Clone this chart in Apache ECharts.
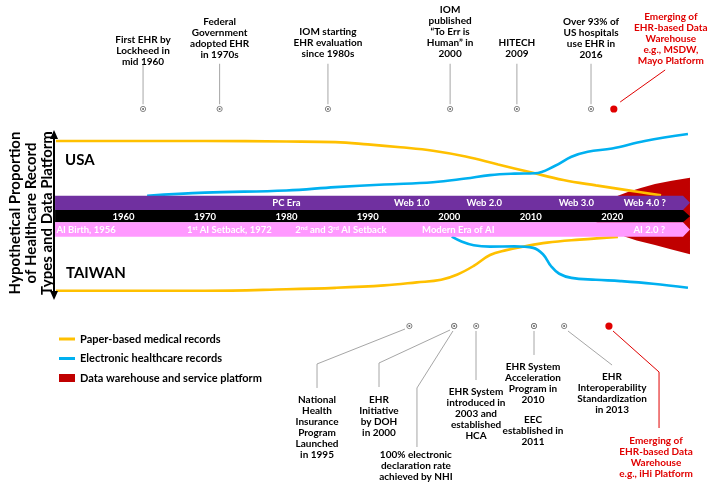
<!DOCTYPE html>
<html><head><meta charset="utf-8">
<script src="https://cdn.jsdelivr.net/npm/echarts@6/dist/echarts.min.js"></script>
<style>html,body{margin:0;padding:0;background:#fff}#c{width:715px;height:490px}</style>
</head><body><div id="c"></div>
<script>
// ---------------- data ----------------
const decadeTicks = [1960, 1970, 1980, 1990, 2000, 2010, 2020];
const eraNames = ['PC Era', 'Web 1.0', 'Web 2.0', 'Web 3.0', 'Web 4.0 ?'];
const eraYears = [1980.0, 1995.4, 2004.3, 2015.6, 2024.0];
const aiNames = ['AI Birth, 1956', '{t|1}{s|st}{t| AI Setback, 1972}', '{t|2}{s|nd}{t| and 3}{s|rd}{t| AI Setback}', 'Modern Era of AI', 'AI 2.0 ?'];
const aiYears = [1955.4, 1973.0, 1986.7, 2001.1, 2024.55];

const usaPaper = [[1951.7,100],[1960,100],[1970,100],[1980,99.3],[1986,98.5],[1990,95.5],[1994,91.7],[1998,87],[2002,79.3],[2006,68.6],[2010,58.2],[2014,48],[2018,40.8],[2022,34.2],[2026,27.5]];
const usaEhr = [[1962.9,27],[1970,31.2],[1980,34],[1986,38.5],[1992,42],[1998,45],[2002,50],[2005,54.5],[2008,56.5],[2010.5,57],[2013,67],[2015,79],[2017,85.6],[2020,90],[2024,100],[2029.3,109.3]];
const twPaper = [[1951.7,-99.6],[1960,-99.6],[1970,-99.6],[1980,-97.7],[1986,-95.8],[1992,-92.5],[1996,-88.5],[1999,-85],[2001,-78],[2003,-66.5],[2005,-52],[2007,-45.5],[2009,-41],[2012,-35.5],[2016,-31.5],[2020.7,-27.8]];
const twEhr = [[2000.3,-27.6],[2001.5,-34],[2003,-39],[2005,-40.8],[2008,-40.5],[2010.3,-42.5],[2011.5,-51],[2012.5,-67],[2013.5,-77],[2015,-82.5],[2018,-85],[2021,-86.8],[2025,-90.3],[2029.3,-95.6]];
const warehouseTop = [[2016.5,0],[2020.7,27],[2022,32.5],[2023.5,37.5],[2025.25,42.7],[2027.3,47],[2029.55,51]];
const warehouseBottom = [[2016.5,0],[2021.6,-27.6],[2023,-32.5],[2025.25,-38.7],[2027.3,-44.5],[2029.55,-51]];

const topLabels = ['First EHR by\nLockheed in\nmid 1960', 'Federal\nGovernment\nadopted EHR\nin 1970s', 'IOM starting\nEHR evaluation\nsince 1980s', 'IOM\npublished\n\u201cTo Err is\nHuman\u201d in\n2000', 'HITECH\n2009', 'Over 93% of\nUS hospitals\nuse EHR in\n2016', 'Emerging of\nEHR-based Data\nWarehouse\ne.g., MSDW,\nMayo Platform'];
const topYears = [1962.4, 1971.8, 1985.1, 2000.1, 2008.3, 2017.4, 2020.2];
const bottomLabels = ['National\nHealth\nInsurance\nProgram\nLaunched\nin 1995', 'EHR\nInitiative\nby DOH\nin 2000', '100% electronic\ndeclaration rate\nachieved by NHI', 'EHR System\nintroduced in\n2003 and\nestablished\nHCA', 'EHR System\nAcceleration\nProgram in\n2010', 'EEC\nestablished in\n2011', 'EHR\nInteroperability\nStandardization\nin 2013', 'Emerging of\nEHR-based Data\nWarehouse\ne.g., iHi Platform'];
const bottomYears = [1995.1, 2000.6, 2000.6, 2003.3, 2010.4, 2010.4, 2014.1, 2019.6];

const legendNames = ['Paper-based medical records', 'Electronic healthcare records', 'Data warehouse and service platform'];

// ---------------- layout (positions in data space) ----------------
const bandStart = 1951.6, bandBodyEnd = 2028.69, bandTip = 2029.55;
const bandEdges = [27.1, 8, -8.4, -27.6];
const topCircleV = 142.7, bottomCircleV = -146.7;
const topLeaders = [
  [[1962.4,149],[1962.4,203]], [[1971.8,149],[1971.8,203]], [[1985.1,149],[1985.1,203]],
  [[2000.1,149],[2000.1,203]], [[2008.3,149],[2008.3,203]], [[2017.4,149],[2017.4,203]],
  [[2020.98,152],[2026.5,194.7]]
];
const topTextAnchor = [[1962.4,242],[1971.8,266],[1985.1,252.7],[2000.1,282],[2008.3,238],[2017.4,266],[2027.2,272.7]];
const bottomLeaders = [
  [[1994.56,-150.7],[1983.76,-197.3],[1983.76,-229.3]],
  [[2000.09,-152],[1991.37,-196],[1991.37,-228]],
  [[2000.45,-153.3],[1996.03,-229.3],[1996.03,-308]],
  [[2003.28,-153.3],[2003.28,-218.7]],
  [[2010.4,-153.3],[2010.4,-185.3]],
  null,
  [[2014.57,-153.3],[2019.98,-198.7]],
  [[2020.1,-153.3],[2025.75,-208],[2025.75,-282.7]]
];
const bottomTextAnchor = [[1983.76,-238],[1991.37,-238],[1995.9,-311.3],[2003.28,-227.3],[2010.28,-194],[2010.28,-264.7],[2019.98,-207.3],[2025.38,-292.7]];
const arrowYear = 1951.47, arrowTopV = 114.7, arrowBottomV = -112;
const countryLabels = [['USA', 1952.82, 74.7], ['TAIWAN', 1952.94, -76.4]];

// ---------------- styles ----------------
const YELLOW = '#FFC000', BLUE = '#00B0F0', RED = '#C00000', RED_TEXT = '#E00000';
const PURPLE = '#7030A0', PINK = '#FF99FF', GREY = '#A6A6A6';
const FONT = 'Lato';

const chart = echarts.init(document.getElementById('c'), null, {renderer: 'canvas'});

function lineSeries(name, data, color) {
  return {
    name, type: 'line', data, smooth: 0.4, symbol: 'none', z: 3,
    color, lineStyle: {color, width: 2.6}, itemStyle: {color}, silent: true
  };
}

const option = {
  animation: false,
  backgroundColor: '#fff',
  grid: {left: 42.05, right: 21.35, top: 0, bottom: 4},
  xAxis: {type: 'value', min: 1950, max: 2030, show: false},
  yAxis: {type: 'value', min: -360, max: 288, show: false},
  legend: {
    orient: 'vertical', left: 54, top: 327, itemWidth: 16, itemHeight: 8, itemGap: 5.5,
    selectedMode: false,
    textStyle: {fontFamily: FONT, fontWeight: 'bold', fontSize: 11, color: '#000', lineHeight: 14},
    data: [
      {name: legendNames[0], icon: 'path://M0,0H16V3H0Z'},
      {name: legendNames[1], icon: 'path://M0,0H16V3H0Z'},
      {name: legendNames[2], icon: 'rect'}
    ]
  },
  graphic: [{
    type: 'text', x: 31, y: 213, rotation: Math.PI / 2,
    style: {text: 'Hypothetical Proportion\nof Healthcare Record\nTypes and Data Platform',
      font: 'bold 15px ' + FONT, lineHeight: 16, align: 'center', verticalAlign: 'middle', fill: '#000'}
  }],
  series: [
    { // data warehouse area
      name: legendNames[2], type: 'custom', z: 1, silent: true,
      itemStyle: {color: RED}, color: RED,
      data: [[2025, 0]],
      renderItem: function (params, api) {
        const pts = warehouseTop.map(p => api.coord(p)).concat(warehouseBottom.slice(1).reverse().map(p => api.coord(p)));
        return {type: 'polygon', shape: {points: pts}, style: {fill: RED}};
      }
    },
    lineSeries(legendNames[0], usaPaper, YELLOW),
    lineSeries(legendNames[1], usaEhr, BLUE),
    lineSeries(legendNames[0], twPaper, YELLOW),
    lineSeries(legendNames[1], twEhr, BLUE),
    { // era bands
      type: 'custom', z: 5, silent: true,
      data: [[bandStart, bandEdges[0], 0], [bandStart, bandEdges[1], 1], [bandStart, bandEdges[2], 2]],
      renderItem: function (params, api) {
        const i = params.dataIndex;
        const top = bandEdges[i], bot = bandEdges[i + 1], mid = (top + bot) / 2;
        const pts = [[bandStart, top], [bandBodyEnd, top], [bandTip, mid], [bandBodyEnd, bot], [bandStart, bot]].map(p => api.coord(p));
        return {type: 'polygon', shape: {points: pts}, style: {fill: [PURPLE, '#000', PINK][i]}};
      }
    },
    { // band texts
      type: 'custom', z: 6, silent: true,
      data: eraYears.map((y, i) => [y, (bandEdges[0] + bandEdges[1]) / 2, 0, i])
        .concat(decadeTicks.map((y, i) => [y, (bandEdges[1] + bandEdges[2]) / 2, 1, i]))
        .concat(aiYears.map((y, i) => [y, (bandEdges[2] + bandEdges[3]) / 2, 2, i])),
      renderItem: function (params, api) {
        const row = api.value(2), i = api.value(3);
        const p = api.coord([api.value(0), api.value(1)]);
        const text = row === 0 ? eraNames[i] : row === 1 ? String(decadeTicks[i]) : aiNames[i];
        return {type: 'text', x: p[0], y: p[1] + 0.5, style: {
          text, fill: '#fff', font: 'bold 9.5px ' + FONT, align: 'center', verticalAlign: 'middle',
          rich: {t: {fill: '#fff', font: 'bold 9.5px ' + FONT}, s: {fill: '#fff', font: 'bold 6px ' + FONT, verticalAlign: 'top', padding: [0, 0, 4, 0]}}
        }};
      }
    },
    { // frame: arrow + country labels
      type: 'custom', z: 6, silent: true,
      data: [[arrowYear, 0]],
      renderItem: function (params, api) {
        const t = api.coord([arrowYear, arrowTopV]), b = api.coord([arrowYear, arrowBottomV]);
        const h = 9, w = 4;
        const children = [
          {type: 'line', shape: {x1: t[0], y1: t[1] + h - 1, x2: b[0], y2: b[1] - h + 1}, style: {stroke: '#000', lineWidth: 2}},
          {type: 'polygon', shape: {points: [[t[0], t[1]], [t[0] - w, t[1] + h], [t[0] + w, t[1] + h]]}, style: {fill: '#000'}},
          {type: 'polygon', shape: {points: [[b[0], b[1]], [b[0] - w, b[1] - h], [b[0] + w, b[1] - h]]}, style: {fill: '#000'}}
        ];
        countryLabels.forEach(c => {
          const p = api.coord([c[1], c[2]]);
          children.push({type: 'text', x: p[0], y: p[1], style: {text: c[0], fill: '#000', font: 'bold 15px ' + FONT, align: 'left', verticalAlign: 'middle'}});
        });
        return {type: 'group', children};
      }
    },
    { // top events
      type: 'custom', z: 6, silent: true,
      data: topYears.map((y, i) => [y, topCircleV, i]),
      renderItem: function (params, api) {
        const i = params.dataIndex, red = i === topYears.length - 1;
        const c = api.coord([topYears[i], topCircleV]);
        const children = [];
        children.push({type: 'polyline', shape: {points: topLeaders[i].map(p => api.coord(p))}, style: {stroke: red ? RED_TEXT : GREY, lineWidth: 1, fill: null}});
        if (red) children.push({type: 'circle', shape: {cx: c[0], cy: c[1], r: 3.6}, style: {fill: RED_TEXT}});
        else {
          children.push({type: 'circle', shape: {cx: c[0], cy: c[1], r: 2.6}, style: {fill: '#fff', stroke: '#666', lineWidth: 0.8}});
          children.push({type: 'circle', shape: {cx: c[0], cy: c[1], r: 1}, style: {fill: '#666'}});
        }
        const t = api.coord(topTextAnchor[i]);
        children.push({type: 'text', x: t[0], y: t[1], style: {text: topLabels[i], fill: red ? RED_TEXT : '#000', font: 'bold 10px ' + FONT, lineHeight: 11, align: 'center', verticalAlign: 'top'}});
        return {type: 'group', children};
      }
    },
    { // bottom events
      type: 'custom', z: 6, silent: true,
      data: bottomYears.map((y, i) => [y, bottomCircleV, i]),
      renderItem: function (params, api) {
        const i = params.dataIndex, red = i === bottomYears.length - 1;
        const c = api.coord([bottomYears[i], bottomCircleV]);
        const children = [];
        if (bottomLeaders[i]) children.push({type: 'polyline', shape: {points: bottomLeaders[i].map(p => api.coord(p))}, style: {stroke: red ? RED_TEXT : GREY, lineWidth: 1, fill: null}});
        if (red) children.push({type: 'circle', shape: {cx: c[0], cy: c[1], r: 3.6}, style: {fill: RED_TEXT}});
        else {
          children.push({type: 'circle', shape: {cx: c[0], cy: c[1], r: 2.6}, style: {fill: '#fff', stroke: '#666', lineWidth: 0.8}});
          children.push({type: 'circle', shape: {cx: c[0], cy: c[1], r: 1}, style: {fill: '#666'}});
        }
        const t = api.coord(bottomTextAnchor[i]);
        children.push({type: 'text', x: t[0], y: t[1], style: {text: bottomLabels[i], fill: red ? RED_TEXT : '#000', font: 'bold 10px ' + FONT, lineHeight: 11, align: 'center', verticalAlign: 'top'}});
        return {type: 'group', children};
      }
    }
  ]
};
chart.setOption(option);
</script></body></html>
